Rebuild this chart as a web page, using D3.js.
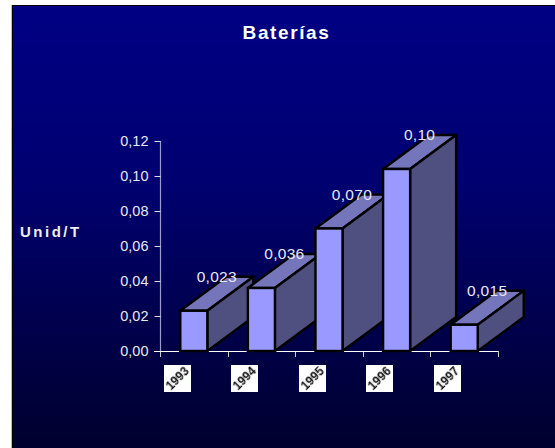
<!DOCTYPE html>
<html><head><meta charset="utf-8">
<script src="https://cdn.jsdelivr.net/npm/d3@7"></script>
<style>html,body{margin:0;padding:0;background:#fff}svg{display:block}text{font-family:"Liberation Sans",Arial,sans-serif}</style>
</head><body><svg id="c" width="555" height="448"></svg>
<script>
const categories = ["1993","1994","1995","1996","1997"];
const values = [0.023,0.036,0.070,0.104,0.015];
const valueLabels = ["0,023","0,036","0,070","0,10","0,015"];
const yTicks = [0,0.02,0.04,0.06,0.08,0.10,0.12];
const titleText = "Baterías";
const yTitle = "Unid/T";

const svg = d3.select("#c");
const defs = svg.append("defs");
const grad = defs.append("linearGradient").attr("id","bg").attr("x1",0).attr("y1",0).attr("x2",0).attr("y2",1);
grad.append("stop").attr("offset",0).attr("stop-color","#000084");
grad.append("stop").attr("offset",0.4).attr("stop-color","#000070");
grad.append("stop").attr("offset",1).attr("stop-color","#00002e");
defs.append("filter").attr("id","soft").append("feGaussianBlur").attr("stdDeviation",0.45);

svg.append("rect").attr("x",12).attr("y",5).attr("width",543).attr("height",443).attr("fill","#000");
svg.append("rect").attr("x",11).attr("y",5).attr("width",1).attr("height",443).attr("fill","#bbb");
svg.append("rect").attr("x",13).attr("y",6).attr("width",542).attr("height",442).attr("fill","url(#bg)");

const x = d3.scaleBand().domain(categories).range([160,498]).paddingInner(0.6).paddingOuter(0.3);
const y = d3.scaleLinear().domain([0,0.12]).range([351,141]);
const dx = 46, dy = 34;

// axes
const gy = svg.append("g").attr("transform","translate(160.5,0)")
  .call(d3.axisLeft(y).tickValues(yTicks).tickSize(6).tickPadding(4).tickFormat(d=>d3.format(".2f")(d).replace(".",",")));
gy.selectAll("path").attr("stroke","#9a9acb").attr("stroke-width",1.2).attr("d","M0,141V351");
gy.selectAll("line").attr("stroke","#ddd");
gy.selectAll("text").attr("fill","#e8e8f4").attr("font-size",14.5).attr("font-family",'"Liberation Sans"').attr("x",-12).attr("dy","0.33em");

const step = x.step();
const tickPos = d3.range(categories.length+1).map(i=>160+i*step);
svg.selectAll("line.xt").data(tickPos).join("line").attr("class","xt")
  .attr("x1",d=>Math.round(d)+0.5).attr("x2",d=>Math.round(d)+0.5).attr("y1",351).attr("y2",357).attr("stroke","#ccc");
svg.append("line").attr("x1",154).attr("x2",498).attr("y1",351.5).attr("y2",351.5).attr("stroke","#fff").attr("stroke-width",1.2);

// bars
const bars = svg.selectAll("g.bar").data(categories.map((c,i)=>({c,v:values[i]}))).join("g").attr("class","bar");
const w = x.bandwidth();
bars.append("path").attr("d",d=>{const l=x(d.c),t=y(d.v);return `M${l},${t}L${l+dx},${t-dy}H${l+w+dx}L${l+w},${t}Z`;})
  .attr("fill","#7575bb").attr("stroke","#000").attr("stroke-width",2.4).attr("stroke-linejoin","round");
bars.append("path").attr("d",d=>{const r=x(d.c)+w,t=y(d.v),b=y(0);return `M${r},${t}L${r+dx},${t-dy}V${b-dy}L${r},${b}Z`;})
  .attr("fill","#4f4f80").attr("stroke","#000").attr("stroke-width",2.4).attr("stroke-linejoin","round");
bars.append("rect").attr("x",d=>x(d.c)).attr("y",d=>y(d.v)).attr("width",w).attr("height",d=>y(0)-y(d.v))
  .attr("fill","#9999ff").attr("stroke","#000").attr("stroke-width",2.4);

// value labels
svg.selectAll("text.vl").data(categories).join("text").attr("class","vl")
  .attr("x",d=>x(d)+w/2+23).attr("y",(d,i)=>y(values[i])-29)
  .attr("text-anchor","middle").attr("fill","#e8e8f4").attr("font-size",15.5).attr("letter-spacing",0.3)
  .text((d,i)=>valueLabels[i]);

// category image-like labels
const cat = svg.selectAll("g.cat").data(categories).join("g").attr("class","cat")
  .attr("transform",d=>`translate(${Math.floor(x(d)+w/2-16.8)+0.5},378.5)`);
cat.append("rect").attr("x",-13.5).attr("y",-13.5).attr("width",27).attr("height",27).attr("fill","#fff");
cat.append("text").attr("transform","rotate(-45)").attr("text-anchor","middle").attr("dy","0.35em")
  .attr("font-size",12).attr("font-weight","bold").attr("fill","#111").attr("filter","url(#soft)").text(d=>d);

// titles
svg.append("text").attr("x",286.5).attr("y",38.5).attr("text-anchor","middle").attr("fill","#fff")
  .attr("font-size",19).attr("font-weight","bold").attr("letter-spacing",1.6).text(titleText);
svg.append("text").attr("x",20).attr("y",236.5).attr("fill","#eee")
  .attr("font-size",15).attr("font-weight","bold").attr("letter-spacing",2.5).text(yTitle);
</script></body></html>
